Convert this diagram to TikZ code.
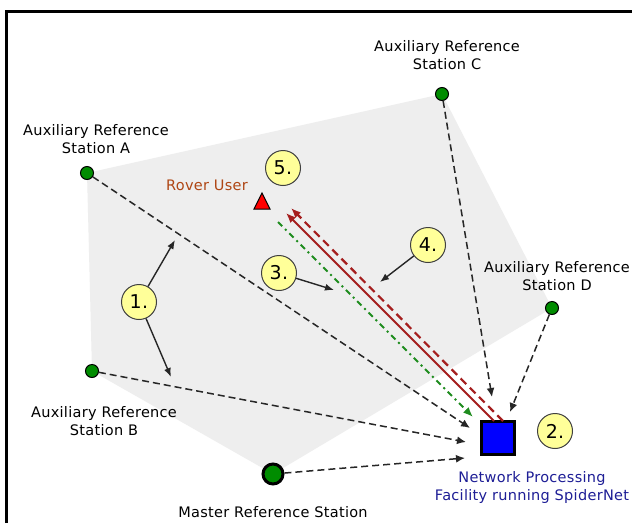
\documentclass[tikz,border=0pt]{standalone}
\usepackage{fontspec}
\setmainfont{DejaVu Sans}[LetterSpace=2]
\usetikzlibrary{arrows.meta}
\definecolor{polyfill}{RGB}{238,238,238}
\definecolor{dotgreen}{RGB}{0,140,0}
\definecolor{linered}{RGB}{165,30,30}
\definecolor{linegreen}{RGB}{30,140,30}
\definecolor{roverbrown}{RGB}{175,70,20}
\definecolor{netblue}{RGB}{30,30,150}
\definecolor{numyellow}{RGB}{255,255,153}
\tikzset{
  dot/.style={circle,fill=dotgreen,draw=black,line width=1pt,minimum size=13pt,inner sep=0pt},
  master/.style={circle,fill=dotgreen,draw=black,line width=3pt,minimum size=20pt,inner sep=0pt},
  netsq/.style={rectangle,fill=blue,draw=black,line width=3pt,minimum size=33pt,inner sep=0pt},
  num/.style={circle,fill=numyellow,draw=black!75,line width=1pt,minimum size=35pt,inner sep=0pt,font=\fontsize{19}{20}\selectfont},
  lab/.style={align=center,font=\fontsize{14.5}{18}\selectfont,inner sep=0pt},
  feed/.style={draw=black!85,line width=1.5pt,dash pattern=on 7pt off 4pt,-{Latex[length=9pt,width=8pt]}},
  pointer/.style={draw=black!85,line width=1.4pt,-{Latex[length=9pt,width=7pt]}},
  corrsolid/.style={draw=linered,line width=1.9pt,-{Latex[length=10pt,width=8pt]}},
  corrdash/.style={draw=linered,line width=2.2pt,dash pattern=on 8pt off 5pt,-{Latex[length=10pt,width=8pt]}},
  obsdash/.style={draw=linegreen,line width=2pt,dash pattern=on 6pt off 4pt on 2pt off 4pt,-{Latex[length=10pt,width=8pt]}}
}
\begin{document}
\begin{tikzpicture}[x=1pt,y=-1pt]
\useasboundingbox (0,0) rectangle (632,523);
\fill[white] (0,0) rectangle (632,523);
% frame (only top and left edges visible)
\draw[line width=3pt] (6,523) -- (6,11) -- (632,11);
% network polygon
\fill[polyfill] (87,173) -- (442,94) -- (552,308) -- (273,474) -- (92,371) -- cycle;
% stations
\node[dot] (A) at (87,173) {};
\node[dot] (B) at (92,371) {};
\node[dot] (C) at (442,94) {};
\node[dot] (D) at (552,308) {};
\node[master] (M) at (273,474) {};
\node[netsq] (N) at (498,438) {};
% rover
\draw[fill=red,draw=black,line width=1pt] (262,193) -- (270,209) -- (254,209) -- cycle;
\coordinate (R) at (262,203);
% labels
\node[lab] (labC) at (447,55) {Auxiliary Reference\\Station C};
\node[lab] (labA) at (96,139) {Auxiliary Reference\\Station A};
\node[lab] (labD) at (557,276) {Auxiliary Reference\\Station D};
\node[lab] (labB) at (104,421) {Auxiliary Reference\\Station B};
\node[lab] (labM) at (273,512) {Master Reference Station};
\node[lab,text=roverbrown] (labR) at (207,185) {Rover User};
\node[lab,text=netblue] (labN) at (532,487) {Network Processing\\Facility running SpiderNet};
% arrow end points near the processing facility
\coordinate (tA) at (470,428);
\coordinate (tB) at (466,442);
\coordinate (tM) at (465,458);
\coordinate (tC) at (492,397);
\coordinate (tD) at (510,412);
\draw[feed] (A) -- (tA);
\draw[feed] (B) -- (tB);
\draw[feed] (M) -- (tM);
\draw[feed] (C) -- (tC);
\draw[feed] (D) -- (tD);
% correction stream and rover observations
\coordinate (s1) at (494,421);
\coordinate (e1) at (286,213);
\coordinate (s2) at (503,421);
\coordinate (e2) at (291,208);
\coordinate (g1) at (278,222);
\coordinate (g2) at (473,417);
\draw[corrsolid] (s1) -- (e1);
\draw[corrdash] (s2) -- (e2);
\draw[obsdash] (g1) -- (g2);
% numbered markers
\node[num] (n1) at (139,302) {1.};
\node[num] (n2) at (555,431) {2.};
\node[num] (n3) at (279,273) {3.};
\node[num] (n4) at (428,245) {4.};
\node[num] (n5) at (283,168) {5.};
\coordinate (p1a) at (175,240);
\coordinate (p1b) at (171,377);
\coordinate (p3) at (334,290);
\coordinate (p4) at (380,282);
\draw[pointer] (n1) -- (p1a);
\draw[pointer] (n1) -- (p1b);
\draw[pointer] (n3) -- (p3);
\draw[pointer] (n4) -- (p4);
\end{tikzpicture}
\end{document}
